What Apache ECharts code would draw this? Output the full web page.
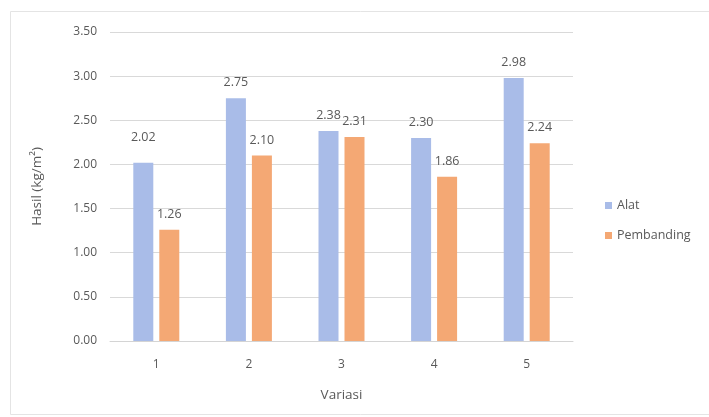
<!DOCTYPE html>
<html>
<head>
<meta charset="utf-8">
<script src="https://cdn.jsdelivr.net/npm/echarts@6/dist/echarts.min.js"></script>
<style>
  html, body { margin: 0; padding: 0; background: #ffffff; }
  #chart { width: 709px; height: 417px; }
</style>
</head>
<body>
<div id="chart"></div>
<script>
// Hasil per variasi: alat vs pembanding
const categories = ['1', '2', '3', '4', '5'];
const alat = [2.02, 2.75, 2.38, 2.30, 2.98];
const pembanding = [1.26, 2.10, 2.31, 1.86, 2.24];
const yTicks = [0, 0.5, 1.0, 1.5, 2.0, 2.5, 3.0, 3.5];

const FONT = '"Open Sans", "Liberation Sans", sans-serif';
const TEXT = '#595959';

const chart = echarts.init(document.getElementById('chart'), null, { renderer: 'canvas' });

const labelStyle = {
  show: true,
  position: 'top',
  distance: 9,
  color: TEXT,
  fontFamily: FONT,
  fontSize: 12.5,
  formatter: p => p.value.toFixed(2)
};

chart.setOption({
  animation: false,
  backgroundColor: '#ffffff',
  graphic: [{
    type: 'rect',
    shape: { x: 10.5, y: 11.5, width: 720, height: 403 },
    style: { fill: 'none', stroke: '#e4e4e4', lineWidth: 1 },
    silent: true,
    z: -1
  }],
  grid: { left: 110, right: 136, top: 32, bottom: 76 },
  legend: {
    orient: 'vertical',
    left: 600,
    top: 194,
    itemWidth: 7,
    itemHeight: 7,
    itemGap: 17,
    icon: 'rect',
    textStyle: { color: TEXT, fontFamily: FONT, fontSize: 12.5 },
    data: ['Alat', 'Pembanding']
  },
  xAxis: {
    type: 'category',
    data: categories,
    name: 'Variasi',
    nameLocation: 'middle',
    nameGap: 47,
    nameTextStyle: { color: TEXT, fontFamily: FONT, fontSize: 13.5 },
    axisLine: { lineStyle: { color: '#d4d4d4' } },
    axisTick: { show: false },
    axisLabel: { color: TEXT, fontFamily: FONT, fontSize: 12, margin: 18 }
  },
  yAxis: {
    type: 'value',
    min: yTicks[0],
    max: yTicks[yTicks.length - 1],
    interval: 0.5,
    name: 'Hasil (kg/m²)',
    nameLocation: 'middle',
    nameGap: 66,
    nameTextStyle: { color: TEXT, fontFamily: FONT, fontSize: 13.5 },
    axisLine: { show: false },
    axisTick: { show: false },
    axisLabel: { color: TEXT, fontFamily: FONT, fontSize: 12, margin: 13, formatter: v => v.toFixed(2) },
    splitLine: { lineStyle: { color: '#d9d9d9' } }
  },
  series: [
    {
      name: 'Alat',
      type: 'bar',
      barWidth: 20,
      barGap: '30%',
      itemStyle: { color: '#a9bce8' },
      label: labelStyle,
      data: alat.map((v, i) => i === 0
        ? { value: v, label: { distance: 19 } }
        : { value: v })
    },
    {
      name: 'Pembanding',
      type: 'bar',
      barWidth: 20,
      barGap: '30%',
      itemStyle: { color: '#f4a874' },
      label: labelStyle,
      data: pembanding
    }
  ]
});
</script>
</body>
</html>
